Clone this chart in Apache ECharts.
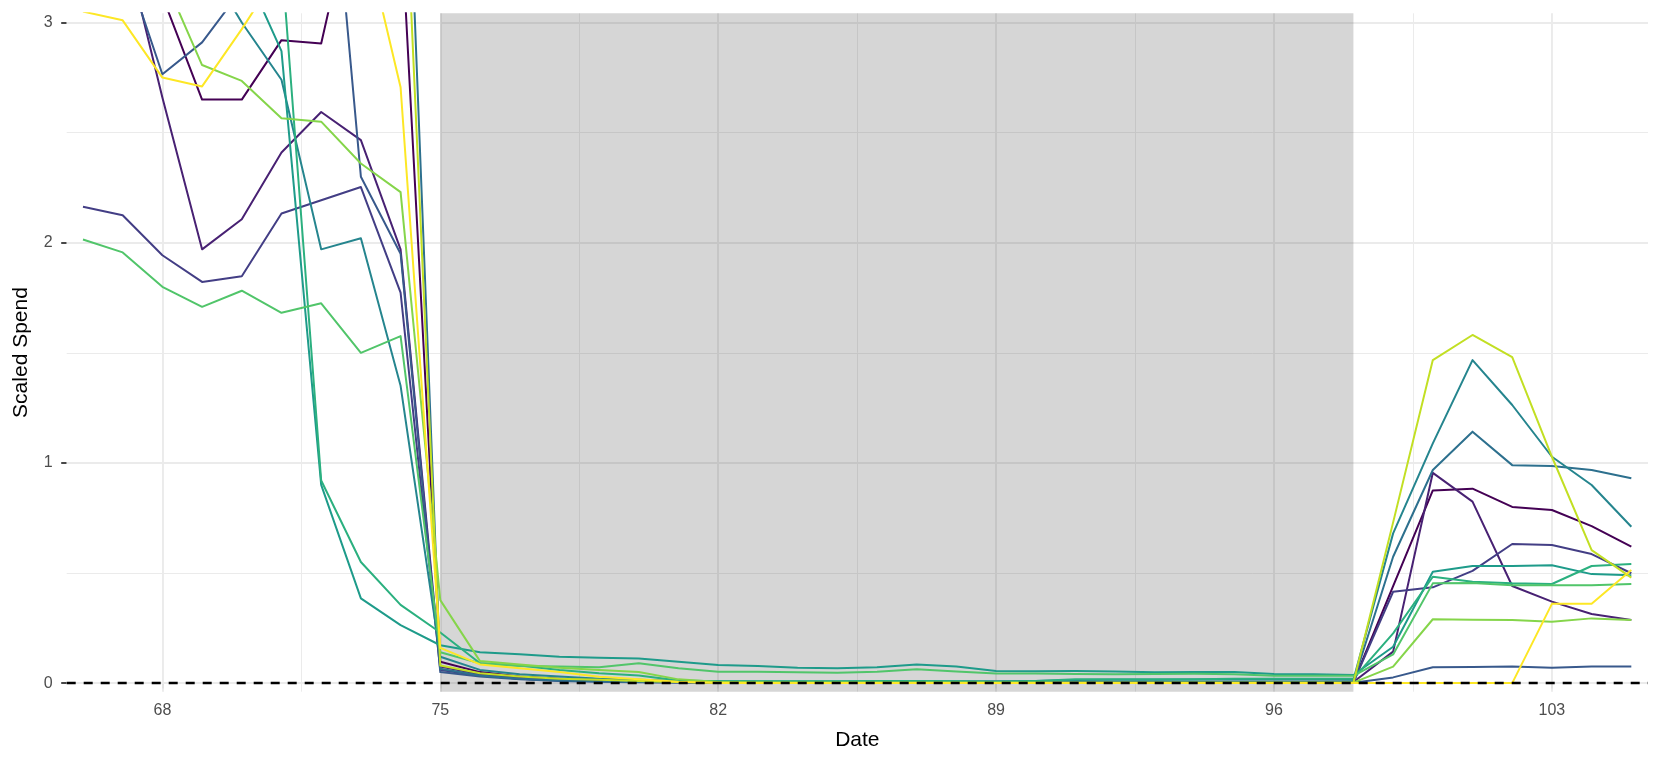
<!DOCTYPE html>
<html>
<head>
<meta charset="utf-8">
<title>Scaled Spend</title>
<script src="https://cdn.jsdelivr.net/npm/echarts@6.0.0/dist/echarts.min.js"></script>
<style>
  html, body { margin: 0; padding: 0; background: #ffffff; }
  #chart { width: 1661px; height: 767px; }
</style>
</head>
<body>
<div id="chart"></div>
<script>
// x values (day index)
const dates = [66, 67, 68, 69, 70, 71, 72, 73, 74, 75, 76, 77, 78, 79, 80, 81, 82, 83, 84, 85,
  86, 87, 88, 89, 90, 91, 92, 93, 94, 95, 96, 97, 98, 99, 100, 101, 102, 103, 104, 105];

const xTicks = [68, 75, 82, 89, 96, 103];
const xMinor = [71.5, 78.5, 85.5, 92.5, 99.5];
const yTicks = [0, 1, 2, 3];
const yMinor = [0.5, 1.5, 2.5];
const shadeFrom = 75;
const shadeTo = 98;

// one array per group (above 3 = clipped, estimated)
const g1 = [3.5, 3.3, 3.12, 2.65, 2.65, 2.92, 2.905, 3.7, 3.5, 0.097,
  0.05, 0.03, 0.02, 0.012, 0.008, 0.005, 0.004, 0.003, 0.003, 0.003, 0.003,
  0.003, 0.003, 0.002, 0.002, 0.002, 0.002, 0.002, 0.002, 0.002, 0.002, 0.002,
  0.004, 0.44, 0.875, 0.883, 0.8, 0.786, 0.713, 0.62];
const g2 = [3.9, 3.4, 2.66, 1.97, 2.107, 2.41, 2.594, 2.466, 1.97, 0.075,
  0.04, 0.025, 0.015, 0.01, 0.006, 0.004, 0.003, 0.003, 0.003, 0.003, 0.003,
  0.003, 0.003, 0.003, 0.004, 0.004, 0.004, 0.005, 0.005, 0.004, 0.004, 0.004,
  0.005, 0.143, 0.955, 0.824, 0.441, 0.37, 0.314, 0.287];
const g3 = [2.163, 2.125, 1.943, 1.822, 1.848, 2.133, 2.193, 2.253, 1.773, 0.06,
  0.035, 0.02, 0.012, 0.008, 0.005, 0.004, 0.003, 0.003, 0.003, 0.003, 0.003,
  0.003, 0.003, 0.003, 0.003, 0.003, 0.003, 0.003, 0.003, 0.003, 0.003, 0.003,
  0.003, 0.415, 0.435, 0.51, 0.632, 0.627, 0.586, 0.499];
const g4 = [3.6, 3.3, 2.765, 2.91, 3.15, 3.7, 4.3, 2.3, 1.95, 0.05,
  0.03, 0.018, 0.01, 0.006, 0.004, 0.003, 0.002, 0.002, 0.002, 0.002, 0.002,
  0.002, 0.002, 0.002, 0.002, 0.002, 0.002, 0.002, 0.002, 0.002, 0.002, 0.002,
  0.002, 0.026, 0.072, 0.073, 0.075, 0.07, 0.075, 0.075];
const g5 = [4.6, 4.4, 4.3, 4.5, 4.4, 4.6, 4.5, 4.7, 4.67, 0.065,
  0.035, 0.02, 0.012, 0.008, 0.005, 0.004, 0.003, 0.003, 0.003, 0.003, 0.004,
  0.004, 0.004, 0.004, 0.005, 0.005, 0.005, 0.006, 0.006, 0.006, 0.006, 0.006,
  0.006, 0.574, 0.968, 1.142, 0.99, 0.986, 0.968, 0.93];
const g6 = [3.5, 3.6, 3.4, 3.3, 3.0, 2.74, 1.97, 2.02, 1.35, 0.12,
  0.06, 0.04, 0.03, 0.02, 0.015, 0.01, 0.008, 0.007, 0.007, 0.007, 0.008,
  0.008, 0.008, 0.008, 0.01, 0.014, 0.015, 0.015, 0.016, 0.016, 0.016, 0.016,
  0.015, 0.68, 1.089, 1.467, 1.263, 1.028, 0.9, 0.71];
const g7 = [3.8, 3.7, 3.6, 3.5, 3.27, 2.87, 0.9, 0.385, 0.263, 0.172,
  0.14, 0.131, 0.12, 0.115, 0.112, 0.097, 0.082, 0.078, 0.07, 0.067, 0.072,
  0.085, 0.075, 0.055, 0.054, 0.055, 0.053, 0.049, 0.05, 0.05, 0.041, 0.04,
  0.037, 0.165, 0.506, 0.532, 0.532, 0.535, 0.495, 0.49];
const g8 = [4.0, 4.0, 3.9, 3.9, 3.8, 3.3, 0.92, 0.55, 0.355, 0.23,
  0.09, 0.08, 0.06, 0.045, 0.035, 0.012, 0.008, 0.008, 0.008, 0.008, 0.01,
  0.01, 0.008, 0.006, 0.01, 0.017, 0.018, 0.018, 0.018, 0.02, 0.02, 0.02,
  0.02, 0.226, 0.483, 0.46, 0.453, 0.45, 0.532, 0.541];
const g9 = [2.015, 1.956, 1.8, 1.709, 1.782, 1.682, 1.725, 1.5, 1.576, 0.14,
  0.09, 0.078, 0.075, 0.072, 0.09, 0.067, 0.052, 0.052, 0.049, 0.047, 0.052,
  0.063, 0.053, 0.044, 0.044, 0.041, 0.04, 0.041, 0.042, 0.04, 0.034, 0.034,
  0.033, 0.13, 0.453, 0.455, 0.445, 0.445, 0.445, 0.45];
const g10 = [3.7, 3.5, 3.22, 2.807, 2.735, 2.565, 2.55, 2.36, 2.23, 0.377,
  0.1, 0.085, 0.07, 0.06, 0.05, 0.017, 0.005, 0.003, 0.002, 0.002, 0.002,
  0.002, 0.002, 0.002, 0.002, 0.002, 0.002, 0.002, 0.002, 0.002, 0.002, 0.002,
  0.002, 0.075, 0.29, 0.288, 0.287, 0.279, 0.294, 0.287];
const g11 = [4.2, 4.3, 4.1, 4.4, 4.3, 4.2, 4.4, 4.3, 4.14, 0.08,
  0.045, 0.03, 0.02, 0.015, 0.01, 0.005, 0.003, 0.002, 0.002, 0.002, 0.002,
  0.002, 0.002, 0.002, 0.002, 0.002, 0.002, 0.002, 0.002, 0.002, 0.002, 0.002,
  0.002, 0.73, 1.467, 1.581, 1.48, 1.028, 0.604, 0.479];
const g12 = [3.05, 3.01, 2.75, 2.71, 2.97, 3.25, 3.5, 3.47, 2.706, 0.16,
  0.085, 0.067, 0.05, 0.029, 0.017, 0.006, 0, 0, 0, 0, 0,
  0, 0, 0, 0, 0, 0, 0, 0, 0, 0, 0,
  0, 0, 0, 0, 0, 0.36, 0.36, 0.514];

const groups = [g1, g2, g3, g4, g5, g6, g7, g8, g9, g10, g11, g12];

// viridis, 12 steps
const palette = ['#440154', '#482173', '#433E85', '#38598C', '#2D708E', '#25858E',
  '#1E9B8A', '#2BB07F', '#51C56A', '#85D54A', '#C2DF23', '#FDE725'];

const chart = echarts.init(document.getElementById('chart'));

const font = "'Liberation Sans', Arial, sans-serif";

const gridLines = [];
xTicks.forEach(v => gridLines.push({ xAxis: v, lineStyle: { width: 1.9 } }));
xMinor.forEach(v => gridLines.push({ xAxis: v, lineStyle: { width: 1.0 } }));
yTicks.forEach(v => gridLines.push({ yAxis: v, lineStyle: { width: 1.9 } }));
yMinor.forEach(v => gridLines.push({ yAxis: v, lineStyle: { width: 1.0 } }));

const series = [
  {
    // background grid
    type: 'line',
    data: [],
    z: 1,
    silent: true,
    markLine: {
      z: 1,
      silent: true,
      symbol: ['none', 'none'],
      label: { show: false },
      lineStyle: { color: '#EBEBEB', type: 'solid' },
      emphasis: { disabled: true },
      data: gridLines
    }
  },
  {
    // shaded period
    type: 'line',
    data: [],
    z: 2,
    silent: true,
    markArea: {
      z: 2,
      silent: true,
      itemStyle: { color: 'rgba(51,51,51,0.2)' },
      emphasis: { disabled: true },
      data: [[{ xAxis: shadeFrom }, { xAxis: shadeTo }]]
    }
  }
];

groups.forEach((vals, i) => {
  series.push({
    name: 'g' + (i + 1),
    type: 'line',
    z: 3,
    showSymbol: false,
    symbol: 'none',
    clip: true,
    lineStyle: { color: palette[i], width: 2, join: 'round' },
    emphasis: { disabled: true },
    data: dates.map((d, j) => [d, vals[j]])
  });
});

series.push({
  // zero reference
  type: 'line',
  data: [],
  z: 5,
  silent: true,
  markLine: {
    z: 6,
    silent: true,
    symbol: ['none', 'none'],
    label: { show: false },
    lineStyle: { color: '#000000', type: [9, 8], width: 2.4 },
    emphasis: { disabled: true },
    data: [{ yAxis: 0 }]
  }
});

chart.setOption({
  animation: false,
  backgroundColor: '#ffffff',
  grid: { left: 66.7, right: 13, top: 13.3, bottom: 75.3, outerBoundsMode: 'none', containLabel: false },
  xAxis: {
    type: 'value',
    min: 65.59,
    max: 105.42,
    name: 'Date',
    nameLocation: 'middle',
    nameGap: 38,
    nameTextStyle: { fontFamily: font, fontSize: 21, color: '#000000' },
    axisLine: { show: false },
    splitLine: { show: false },
    axisTick: { show: true, customValues: xTicks, length: 5.5, lineStyle: { color: '#333333', width: 1.8 } },
    axisLabel: { customValues: xTicks, margin: 11, fontFamily: font, fontSize: 16, color: '#4D4D4D' }
  },
  yAxis: {
    type: 'value',
    min: -0.039,
    max: 3.042,
    name: 'Scaled Spend',
    nameLocation: 'middle',
    nameGap: 35,
    nameTextStyle: { fontFamily: font, fontSize: 21, color: '#000000' },
    axisLine: { show: false },
    splitLine: { show: false },
    axisTick: { show: true, customValues: yTicks, length: 5.5, lineStyle: { color: '#333333', width: 1.8 } },
    axisLabel: { customValues: yTicks, margin: 14, fontFamily: font, fontSize: 16, color: '#4D4D4D' }
  },
  series: series
});
</script>
</body>
</html>
